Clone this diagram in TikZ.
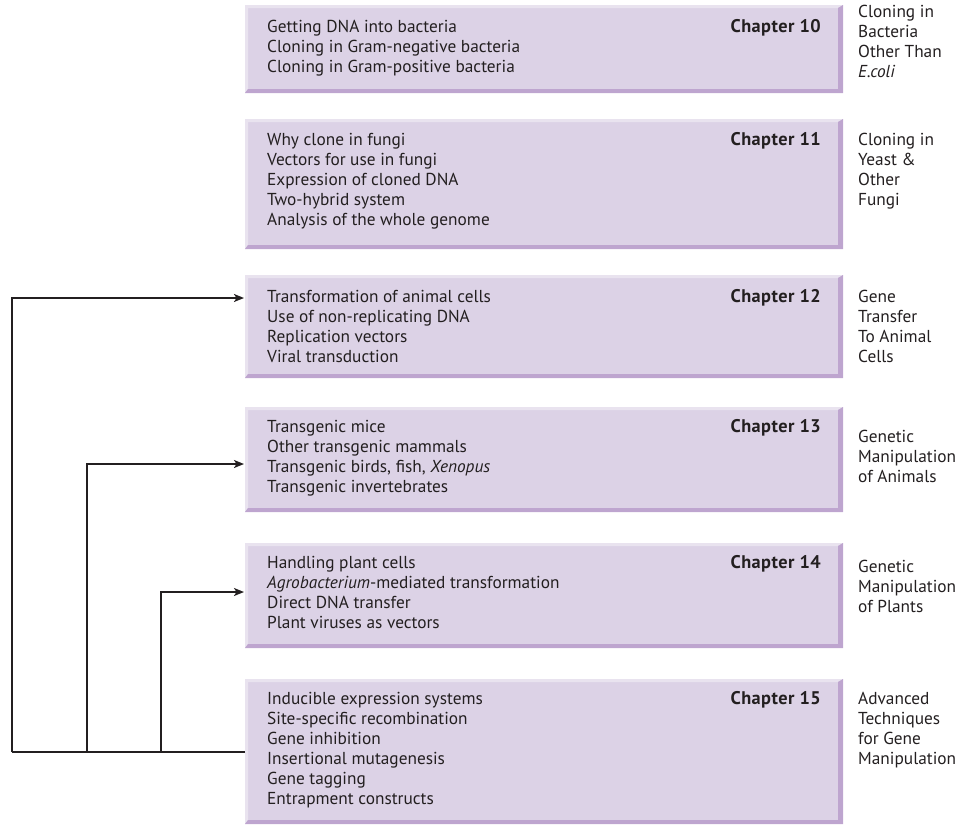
\documentclass[tikz,border=0pt]{standalone}
\usepackage{fontspec}
\setmainfont{PT Sans}
\usetikzlibrary{arrows.meta,calc}
\definecolor{boxfill}{HTML}{DCD2E6}
\definecolor{bevlight}{HTML}{E9E3EF}
\definecolor{bevdark}{HTML}{BEA5CF}
\definecolor{ink}{HTML}{231F20}
\newcommand{\bevelbox}[1]{%
  \fill[bevlight] (#1.south west) -- (#1.north west) -- (#1.north east)
    -- ([shift={(-5pt,-3pt)}]#1.north east) -- ([shift={(3pt,-3pt)}]#1.north west)
    -- ([shift={(3pt,4pt)}]#1.south west) -- cycle;
  \fill[bevdark] (#1.south west) -- (#1.south east) -- (#1.north east)
    -- ([shift={(-5pt,-3pt)}]#1.north east) -- ([shift={(-5pt,4pt)}]#1.south east)
    -- ([shift={(3pt,4pt)}]#1.south west) -- cycle;}
\tikzset{
  box/.style={rectangle, fill=boxfill, anchor=north west, minimum width=598pt, inner sep=0pt, outer sep=0pt},
  txt/.style={anchor=north west, align=left, inner sep=0pt, font=\fontsize{17.3}{20}\selectfont, text=ink},
  chap/.style={anchor=north east, inner sep=0pt, font=\fontsize{18.3}{20}\selectfont\bfseries\addfontfeature{LetterSpace=2.5}, text=ink},
  lab/.style={anchor=north west, align=left, inner sep=0pt, font=\fontsize{17.3}{20}\selectfont, text=ink},
  conn/.style={draw=ink, line width=1.6pt},
  arr/.style={conn, -{Stealth[length=10pt,width=8pt,inset=2.5pt]}}
}
\begin{document}
\begin{tikzpicture}[x=1pt,y=-1pt]
\useasboundingbox (0,0) rectangle (977,827);
% boxes
\node[box, minimum height=88pt] (b1) at (245,5) {};
\node[box, minimum height=130pt] (b2) at (245,119) {};
\node[box, minimum height=103pt] (b3) at (245,275) {};
\node[box, minimum height=105pt] (b4) at (245,407) {};
\node[box, minimum height=105pt] (b5) at (245,543) {};
\node[box, minimum height=145pt] (b6) at (245,679) {};
\bevelbox{b1}\bevelbox{b2}\bevelbox{b3}\bevelbox{b4}\bevelbox{b5}\bevelbox{b6}
% box texts
\node[txt] (t1) at (267,18) {\strut Getting DNA into bacteria\\Cloning in Gram-negative bacteria\\Cloning in Gram-positive bacteria};
\node[txt] (t2) at (267,131) {\strut Why clone in fungi\\Vectors for use in fungi\\Expression of cloned DNA\\Two-hybrid system\\Analysis of the whole genome};
\node[txt] (t3) at (267,288) {\strut Transformation of animal cells\\Use of non-replicating DNA\\Replication vectors\\Viral transduction};
\node[txt] (t4) at (267,418) {\strut Transgenic mice\\Other transgenic mammals\\Transgenic birds, fish, \textit{Xenopus}\\Transgenic invertebrates};
\node[txt] (t5) at (267,554) {\strut Handling plant cells\\\textit{Agrobacterium}-mediated transformation\\Direct DNA transfer\\Plant viruses as vectors};
\node[txt] (t6) at (267,690) {\strut Inducible expression systems\\Site-specific recombination\\Gene inhibition\\Insertional mutagenesis\\Gene tagging\\Entrapment constructs};
% chapter labels
\node[chap] (c1) at (821,18) {\strut Chapter 10};
\node[chap] (c2) at (821,131) {\strut Chapter 11};
\node[chap] (c3) at (821,288) {\strut Chapter 12};
\node[chap] (c4) at (821,418) {\strut Chapter 13};
\node[chap] (c5) at (821,554) {\strut Chapter 14};
\node[chap] (c6) at (821,690) {\strut Chapter 15};
% side labels
\node[lab] (l1) at (858,3) {\strut Cloning in\\Bacteria\\Other Than\\\textit{E.coli}};
\node[lab] (l2) at (858,131) {\strut Cloning in\\Yeast \&\\Other\\Fungi};
\node[lab] (l3) at (858,288) {\strut Gene\\Transfer\\To Animal\\Cells};
\node[lab] (l4) at (858,428) {\strut Genetic\\Manipulation\\of Animals};
\node[lab] (l5) at (858,558) {\strut Genetic\\Manipulation\\of Plants};
\node[lab] (l6) at (858,690) {\strut Advanced\\Techniques\\for Gene\\Manipulation};
% connectors
\coordinate (h6) at (b6.west |- 0,752);
\coordinate (j1) at (12,752);
\coordinate (j2) at (87,752);
\coordinate (j3) at (161,752);
\coordinate (a3) at ([xshift=-1pt]b3.west |- 0,298);
\coordinate (a4) at ([xshift=-1pt]b4.west |- 0,464);
\coordinate (a5) at ([xshift=-1pt]b5.west |- 0,592);
\draw[conn] (h6) -- (j1);
\draw[arr] (j1) |- (a3);
\draw[arr] (j2) |- (a4);
\draw[arr] (j3) |- (a5);
\end{tikzpicture}
\end{document}
